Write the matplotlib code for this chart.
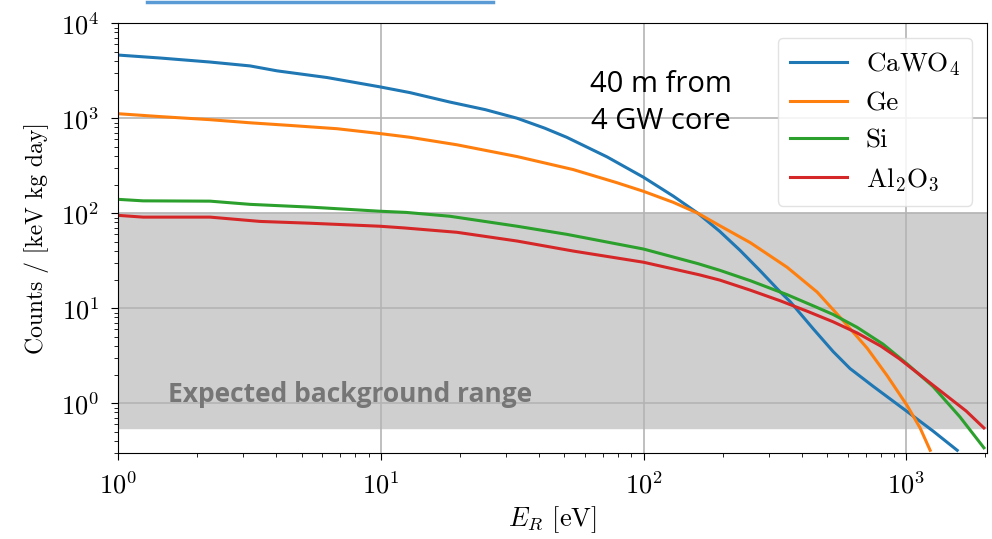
import matplotlib
matplotlib.use('Agg')
import matplotlib.pyplot as plt
from matplotlib.lines import Line2D

plt.rcParams['font.family'] = 'cmr10'
plt.rcParams['mathtext.fontset'] = 'cm'
plt.rcParams['axes.formatter.use_mathtext'] = True

# recoil energy [eV] and counts / (keV kg day)
e_cawo4 = [1, 1.445, 2.24, 3.18, 4.03, 6.24, 9.9, 12.9, 18.3, 25, 33, 42, 51,
           72.6, 100, 130, 161, 195, 233, 278, 331, 362, 442, 527, 611, 748,
           1007, 1265, 1563]
c_cawo4 = [4620, 4300, 3900, 3550, 3150, 2680, 2140, 1860, 1480, 1230, 1000,
           787, 630, 392, 239, 151, 100, 64.5, 40.7, 24.8, 14.9, 11.7, 6.1,
           3.5, 2.32, 1.51, 0.82, 0.51, 0.32]

e_ge = [1, 1.445, 2.24, 3.18, 4.64, 6.82, 9.9, 12.9, 19.5, 33, 54, 79, 100,
        130, 161, 195, 255, 352, 458, 575, 710, 846, 1007, 1129, 1233]
c_ge = [1115, 1040, 965, 895, 835, 775, 690, 630, 525, 395, 288, 210, 170,
        130, 100, 74, 49, 27, 14.8, 7.4, 3.8, 1.95, 0.95, 0.55, 0.32]

e_si = [1, 1.245, 2.24, 3.18, 5.38, 9.9, 12.5, 18.3, 33, 51, 100, 161, 195,
        255, 352, 450, 527, 650, 815, 1007, 1265, 1600, 1975]
c_si = [140, 135, 134, 124, 116, 105, 102, 93, 73, 60, 42, 29.5, 25.1, 19.5,
        13.9, 10.4, 8.6, 6.3, 4.2, 2.6, 1.5, 0.72, 0.34]

e_al2o3 = [1, 1.245, 2.24, 3.47, 5.38, 9.9, 12.3, 19.5, 33, 54, 100, 163,
           195, 255, 331, 420, 527, 650, 800, 940, 1100, 1265, 1690, 1975]
c_al2o3 = [95, 91, 91, 82, 78.5, 73, 70, 63, 51, 40, 30.5, 22.5, 19.8, 15.5,
           12.0, 9.3, 7.2, 5.5, 4.0, 2.95, 2.1, 1.55, 0.83, 0.55]

bg_low, bg_high = 0.55, 100

fig = plt.figure(figsize=(9.92, 5.39), dpi=100)
ax = fig.add_axes([0.119, 0.1596, 0.876, 0.7974])

ax.axhspan(bg_low, bg_high, color='#cfcfcf', zorder=0)
ax.plot(e_cawo4, c_cawo4, color='#1f77b4', lw=2.2, label='CaWO$_4$')
ax.plot(e_ge, c_ge, color='#ff7f0e', lw=2.2, label='Ge')
ax.plot(e_si, c_si, color='#2ca02c', lw=2.2, label='Si')
ax.plot(e_al2o3, c_al2o3, color='#d62728', lw=2.2, label='Al$_2$O$_3$')

ax.set_xscale('log')
ax.set_yscale('log')
ax.set_xlim(1, 2030)
ax.set_ylim(0.3, 1e4)
ax.grid(True, which='major', color='#b4b4b4', lw=1.2)
ax.set_axisbelow(True)
ax.tick_params(which='both', direction='out', labelsize=19, top=False,
               right=False, pad=8.5)
ax.tick_params(which='major', length=5)
ax.tick_params(which='minor', length=3)
ax.set_xlabel('$E_R$ [eV]', fontsize=19, labelpad=4)
ax.set_ylabel('Counts / [keV kg day]', fontsize=17, labelpad=9)

leg = ax.legend(loc='upper right', fontsize=19.5, framealpha=0.85,
                handlelength=2.1, handletextpad=0.7, borderpad=0.45,
                labelspacing=0.5, borderaxespad=0.55)
leg.get_frame().set_edgecolor('#dddddd')

ax.text(116, 1450, '40 m from\n4 GW core', fontsize=21, family='Open Sans',
        ha='center', va='center', linespacing=1.35)
ax.text(1.55, 1.24, 'Expected background range', fontsize=19,
        family='Open Sans', fontweight='bold', color='#767676',
        ha='left', va='center')

fig.add_artist(Line2D([0.148, 0.497], [0.996, 0.996], color='#5b9bd5', lw=2.5))

fig.savefig('out.png', dpi=100)
